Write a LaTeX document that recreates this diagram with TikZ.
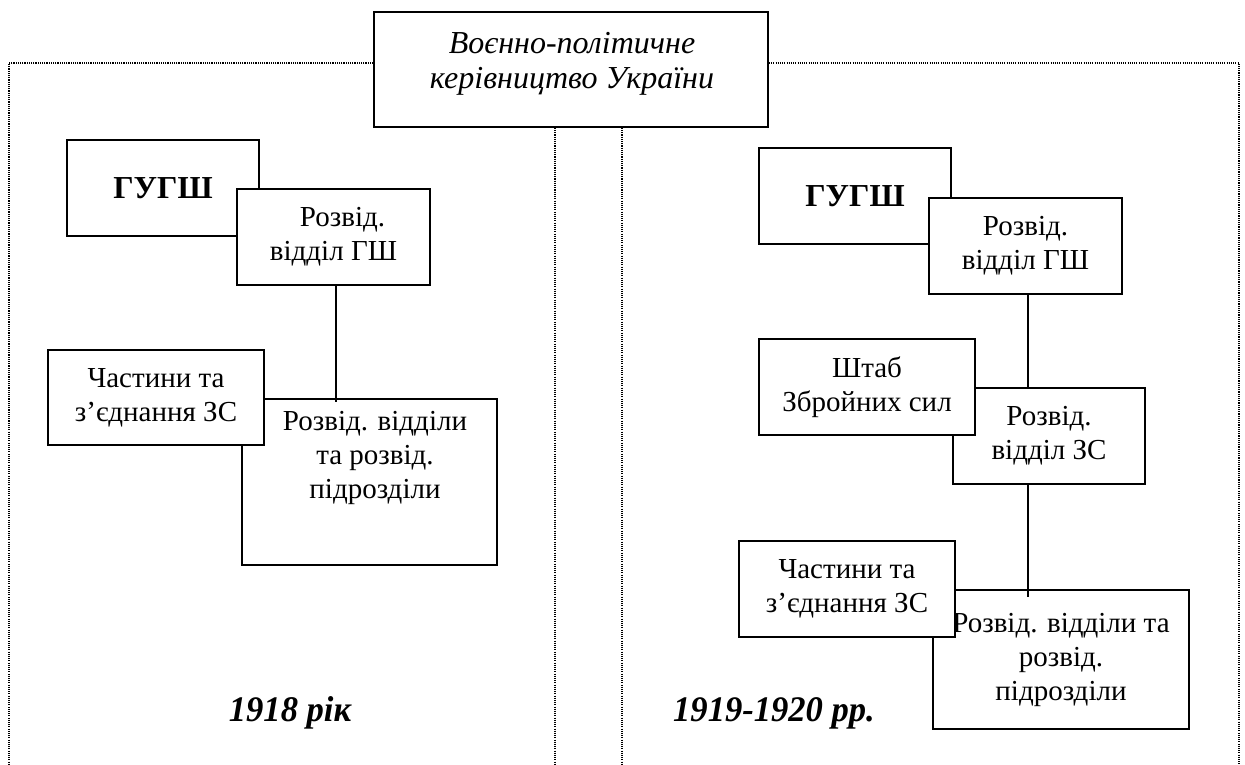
\documentclass[tikz,border=0pt]{standalone}
\usepackage{fontspec}
\setmainfont{Liberation Serif}
\usetikzlibrary{calc}
\tikzset{
  orgbox/.style={draw, line width=1.8pt, fill=white, inner sep=0pt, align=center,
    font=\fontsize{29}{34}\selectfont},
  txt/.style={inner sep=0pt, align=center, font=\fontsize{29}{34}\selectfont},
  boldbox/.style={orgbox, font=\fontsize{32}{36}\selectfont\bfseries},
  yearlbl/.style={inner sep=0pt, font=\fontsize{36}{40}\selectfont\bfseries\itshape},
  frame/.style={line width=1.4pt, dash pattern=on 1.1pt off 1.1pt},
  conn/.style={line width=1.6pt}
}
\begin{document}
\begin{tikzpicture}[x=1pt,y=-1pt]
\useasboundingbox (0,0) rectangle (1245,765);
% top box
\node[orgbox, minimum width=394pt, minimum height=115pt] (top) at (571,69.5) {};
\node[txt, font=\fontsize{32}{35}\selectfont\itshape] (toptxt) at (572,64) {Воєнно-політичне\\керівництво України};
% dotted frames
\coordinate (fl1) at (9,63);
\coordinate (fl2) at (9,765);
\coordinate (fr1) at (1239,63);
\coordinate (fr2) at (1239,765);
\coordinate (m1) at (555,765);
\coordinate (m2) at (622,765);
\draw[frame] (top.west |- fl1) -- (fl1) -- (fl2);
\draw[frame] (top.east |- fr1) -- (fr1) -- (fr2);
\draw[frame] (top.south -| m1) -- (m1);
\draw[frame] (top.south -| m2) -- (m2);
% left panel
\node[boldbox, minimum width=192pt, minimum height=96pt] (gug1) at (163,188) {ГУГШ};
\node[orgbox, minimum width=193pt, minimum height=96pt] (gsh1) at (333.5,237) {\hspace*{18pt}Розвід.\\відділ ГШ};
\node[orgbox, minimum width=255pt, minimum height=166pt] (low1) at (369.5,482) {};
\node[txt] (low1t) at (375,458) {Розвід. відділи\\та розвід.\\підрозділи};
\draw[conn] (gsh1.south -| 336,0) -- ($(low1.north -| 336,0)+(0,4)$);
\node[orgbox, minimum width=216pt, minimum height=95pt] (ch1) at (156,397.5) {Частини та\\з’єднання ЗС};
\node[yearlbl] (y1) at (290,713) {\scalebox{0.96}[1]{1918 рік}};
% right panel
\node[boldbox, minimum width=192pt, minimum height=96pt] (gug2) at (855,196) {ГУГШ};
\node[orgbox, minimum width=193pt, minimum height=96pt] (gsh2) at (1025.5,246) {Розвід.\\відділ ГШ};
\node[orgbox, minimum width=192pt, minimum height=96pt] (zs2) at (1049,436) {Розвід.\\відділ ЗС};
\draw[conn] (gsh2.south -| 1028,0) -- (zs2.north -| 1028,0);
\node[orgbox, minimum width=216pt, minimum height=96pt] (sh2) at (867,387) {Штаб\\Збройних сил};
\node[orgbox, minimum width=256pt, minimum height=139pt] (low2) at (1061,659.5) {Розвід. відділи та\\розвід.\\підрозділи};
\draw[conn] (zs2.south -| 1028,0) -- ($(low2.north -| 1028,0)+(0,8)$);
\node[orgbox, minimum width=216pt, minimum height=96pt] (ch2) at (847,589) {Частини та\\з’єднання ЗС};
\node[yearlbl] (y2) at (774,713) {\scalebox{0.96}[1]{1919-1920 рр.}};
\end{tikzpicture}
\end{document}
